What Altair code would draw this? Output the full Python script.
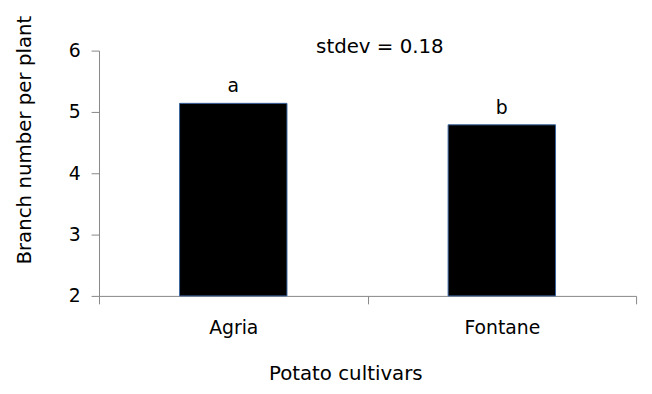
import altair as alt
import pandas as pd

cultivars = ["Agria", "Fontane"]
branches = [5.14, 4.79]
letters = ["a", "b"]
stdev_text = ["stdev = 0.18"]
y_ticks = [2, 3, 4, 5, 6]

df = pd.DataFrame({"cultivar": cultivars, "branches": branches, "letter": letters})
note = pd.DataFrame({"label": stdev_text, "yv": [6]})

FONT = "DejaVu Sans"
GRAY = "#878787"

x_enc = alt.X(
    "cultivar:N",
    sort=cultivars,
    scale=alt.Scale(paddingInner=0, paddingOuter=0),
    axis=alt.Axis(
        title="Potato cultivars",
        labelAngle=0,
        tickBand="extent",
        tickSize=8,
        labelPadding=15,
        labelFontSize=19,
        labelColor="black",
        titleFontSize=20,
        titleFontWeight="normal",
        titleColor="black",
        titleX=249,
        titleY=85,
        titleBaseline="alphabetic",
        domainColor=GRAY,
        tickColor=GRAY,
    ),
)

y_enc = alt.Y(
    "branches:Q",
    scale=alt.Scale(domain=[2, 6], nice=False, zero=False, clamp=True),
    axis=alt.Axis(
        title="Branch number per plant",
        values=y_ticks,
        format="d",
        grid=False,
        tickSize=8,
        labelPadding=11,
        labelFontSize=19,
        labelColor="black",
        titleFontSize=20,
        titleFontWeight="normal",
        titleColor="black",
        titleAngle=-90,
        titleX=-75,
        titleY=90,
        titleBaseline="middle",
        titleAlign="center",
        domainColor=GRAY,
        tickColor=GRAY,
    ),
)

bars = alt.Chart(df).mark_bar(
    color="black", stroke="#3b64a0", strokeWidth=1, width=alt.RelativeBandSize(0.4)
).encode(x=x_enc, y=y_enc, y2=alt.datum(2))

labels = alt.Chart(df).mark_text(
    baseline="alphabetic", dy=-11, fontSize=19, font=FONT, color="black"
).encode(x=alt.X("cultivar:N", sort=cultivars), y="branches:Q", text="letter:N")

stdev = alt.Chart(note).mark_text(
    baseline="alphabetic", dy=2, fontSize=20, font=FONT, color="black", align="center"
).encode(x=alt.value(284), y=alt.Y("yv:Q"), text="label:N")

chart = (
    alt.layer(bars, labels, stdev)
    .properties(
        width=543,
        height=248,
        autosize=alt.AutoSizeParams(type="none"),
        padding={"left": 92, "top": 41, "right": 8, "bottom": 89},
    )
    .configure(font=FONT)
    .configure_view(stroke=None)
    .configure_axis(labelFont=FONT, titleFont=FONT)
)

chart.save("out.html", embed_options={"renderer": "svg", "actions": False})
